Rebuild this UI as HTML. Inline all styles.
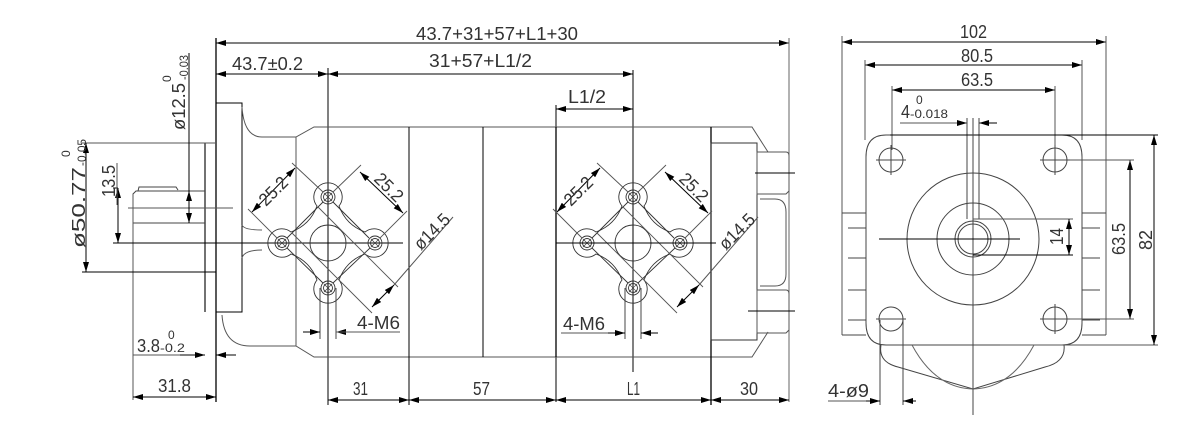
<!DOCTYPE html>
<html><head><meta charset="utf-8"><style>
html,body{margin:0;padding:0;background:#fff}
svg{display:block}
text{font-family:"Liberation Sans",sans-serif;fill:#333;font-size:18px}
.s{font-size:12px}
</style></head><body>
<svg width="1199" height="440" viewBox="0 0 1199 440" xmlns="http://www.w3.org/2000/svg">
<defs>
<marker id="a" viewBox="0 0 10 6" refX="10" refY="3" markerWidth="10" markerHeight="6" markerUnits="userSpaceOnUse" orient="auto-start-reverse"><path d="M0,0 L10,3 L0,6 z" fill="#000"/></marker>
<g id="h" fill="none" stroke="#333" stroke-width="0.9"><circle r="7"/><circle r="4.5"/><path d="M-4,-4 L4,4 M-4,4 L4,-4" stroke-width="0.6"/></g>
<g id="pp" fill="none" stroke="#333" stroke-width="0.9">
  <path d="M-11,-37 A14.2,14.2 0 1 1 11,-37 Q18,-18 37,-11 A14.2,14.2 0 1 1 37,11 Q18,18 11,37 A14.2,14.2 0 1 1 -11,37 Q-18,18 -37,11 A14.2,14.2 0 1 1 -37,-11 Q-18,-18 -11,-37 Z"/>
  <use href="#h" x="0" y="-46"/><use href="#h" x="-46" y="0"/><use href="#h" x="47" y="0"/><use href="#h" x="0" y="45"/>
  <circle cx="0" cy="0" r="18"/>
  <path d="M-5,-41 L-41,-5 M5,-41 L41,-5 M-5,40 L-41,5 M5,40 L42,5"/>
  <path d="M-5,-51 L-36,-80 M-51,-5 L-80,-34 M5,-51 L33,-78 M52,-5 L79,-32" stroke="#555"/>
  <path d="M-10,-36 L70,44 M-36,-10 L44,70" stroke="#555"/>
  <path d="M-8,45 L-8,96 M8,45 L8,96"/>
</g>
</defs>
<g stroke="#000" stroke-width="1" fill="none">
<line x1="216" y1="43" x2="789" y2="43" marker-start="url(#a)" marker-end="url(#a)"/>
<line x1="216" y1="74" x2="328" y2="74" marker-start="url(#a)" marker-end="url(#a)"/>
<line x1="328" y1="74" x2="633" y2="74" marker-start="url(#a)" marker-end="url(#a)"/>
<line x1="556" y1="109" x2="633" y2="109" marker-start="url(#a)" marker-end="url(#a)"/>
<line x1="216" y1="38" x2="216" y2="402" stroke-width="1.3"/>
<line x1="789" y1="38" x2="789" y2="402" stroke="#666"/>
<line x1="328" y1="68" x2="328" y2="405"/>
<line x1="633" y1="70" x2="633" y2="372"/>
<line x1="556" y1="105" x2="556" y2="402"/>
<rect x="216" y="103" width="26" height="209"/>
<path d="M242,107 Q244,137 262,137 L296,137 L314,127 L752,127 L768,152" stroke="#555"/>
<path d="M222,315 Q224,346 250,346 L296,346 L314,357 L752,357 L768,332" stroke="#555"/>
<line x1="296" y1="137" x2="296" y2="346" stroke="#555"/>
<path d="M242,225 Q244,230 262,230 M242,258 Q244,250 262,250" stroke="#555"/>
<line x1="409" y1="127" x2="409" y2="405"/>
<line x1="483" y1="127" x2="483" y2="357"/>
<line x1="556" y1="127" x2="556" y2="357" stroke-width="1.3"/>
<line x1="711" y1="127" x2="711" y2="405" stroke-width="1.3"/>
<rect x="711" y="143" width="46" height="197" stroke="#333"/>
<path d="M757,152 L786,152 Q789,152 789,156 L789,191 L786,194 L757,194 Z" stroke="#555"/>
<path d="M757,290 L786,290 Q789,290 789,294 L789,330 L786,333 L757,333 Z" stroke="#555"/>
<path d="M760,199 L775,199 Q786,199 786,212 L786,274 Q786,286 775,286 L760,286" stroke="#555"/>
<line x1="755" y1="173" x2="795" y2="173"/><line x1="748" y1="311" x2="795" y2="311"/>
<path d="M133,223 L133,194 L136,191 L205,191 M138,191 L139,187 L176,187 L178,190 M133,223 L205,223" stroke="#444"/>
<line x1="133" y1="194" x2="133" y2="400" stroke="#555"/>
<line x1="205" y1="143" x2="205" y2="312" stroke="#444" stroke-width="1.5"/>
<line x1="128" y1="208" x2="233" y2="208" stroke="#555"/>
<line x1="113" y1="243" x2="403" y2="243"/>
<line x1="82" y1="143" x2="216" y2="143" stroke="#555"/>
<line x1="82" y1="272" x2="216" y2="272"/>
<line x1="86" y1="143" x2="86" y2="272" marker-start="url(#a)" marker-end="url(#a)"/>
<line x1="189" y1="53" x2="189" y2="191"/>
<line x1="189" y1="191" x2="189" y2="223" marker-start="url(#a)" marker-end="url(#a)"/>
<line x1="118" y1="188" x2="118" y2="243" marker-start="url(#a)" marker-end="url(#a)"/>
<line x1="113" y1="188" x2="118" y2="188"/>
<line x1="133" y1="355" x2="200" y2="355" stroke="#555"/>
<line x1="180" y1="355" x2="205" y2="355" marker-end="url(#a)"/>
<line x1="236" y1="355" x2="216" y2="355" marker-end="url(#a)"/>
<line x1="133" y1="397" x2="216" y2="397" marker-start="url(#a)" marker-end="url(#a)"/>
<line x1="328" y1="400" x2="409" y2="400" marker-start="url(#a)" marker-end="url(#a)"/>
<line x1="409" y1="400" x2="556" y2="400" marker-start="url(#a)" marker-end="url(#a)"/>
<line x1="556" y1="400" x2="711" y2="400" marker-start="url(#a)" marker-end="url(#a)"/>
<line x1="711" y1="400" x2="789" y2="400" marker-start="url(#a)" marker-end="url(#a)"/>
<use href="#pp" x="328" y="243"/>
<use href="#pp" x="633" y="243"/>
<line x1="556" y1="243" x2="716" y2="243"/>
<line x1="252" y1="212" x2="295" y2="168" marker-start="url(#a)" marker-end="url(#a)"/>
<line x1="360" y1="172" x2="403" y2="213" marker-start="url(#a)" marker-end="url(#a)"/>
<line x1="372" y1="307" x2="394" y2="285" marker-start="url(#a)" marker-end="url(#a)"/>
<line x1="394" y1="285" x2="453" y2="217" stroke="#555"/>
<line x1="557" y1="212" x2="600" y2="168" marker-start="url(#a)" marker-end="url(#a)"/>
<line x1="665" y1="172" x2="708" y2="213" marker-start="url(#a)" marker-end="url(#a)"/>
<line x1="677" y1="307" x2="699" y2="285" marker-start="url(#a)" marker-end="url(#a)"/>
<line x1="699" y1="285" x2="758" y2="217" stroke="#555"/>
<line x1="303" y1="332" x2="320" y2="332" marker-end="url(#a)"/>
<line x1="353" y1="332" x2="336" y2="332" marker-end="url(#a)"/>
<line x1="336" y1="332" x2="400" y2="332" stroke="#555"/>
<line x1="561" y1="333" x2="625" y2="333" stroke="#555"/>
<line x1="608" y1="333" x2="625" y2="333" marker-end="url(#a)"/>
<line x1="658" y1="333" x2="641" y2="333" marker-end="url(#a)"/>

<line x1="842" y1="42" x2="1106" y2="42" marker-start="url(#a)" marker-end="url(#a)"/>
<line x1="865" y1="65" x2="1082" y2="65" marker-start="url(#a)" marker-end="url(#a)"/>
<line x1="892" y1="90" x2="1055" y2="90" marker-start="url(#a)" marker-end="url(#a)"/>
<line x1="842" y1="36" x2="842" y2="335" stroke="#555"/>
<line x1="1106" y1="36" x2="1106" y2="335" stroke="#555"/>
<line x1="865" y1="60" x2="865" y2="140" stroke="#555"/>
<line x1="1082" y1="60" x2="1082" y2="140" stroke="#555"/>
<line x1="892" y1="86" x2="892" y2="150" stroke="#555"/>
<line x1="1055" y1="86" x2="1055" y2="150" stroke="#555"/>
<line x1="900" y1="123" x2="967" y2="123" marker-end="url(#a)" stroke="#555"/>
<line x1="997" y1="123" x2="979" y2="123" marker-end="url(#a)"/>
<path d="M967,118 L967,219 M979,118 L979,219" stroke="#444"/>
<path d="M886,135 L1062,135 Q1082,135 1082,157 L1082,323 Q1082,345 1062,345 L886,345 Q866,345 866,323 L866,157 Q866,135 886,135 Z" stroke="#444"/>
<line x1="890" y1="135" x2="1158" y2="135"/>
<line x1="1000" y1="345" x2="1158" y2="345" stroke="#555"/>
<line x1="1154" y1="135" x2="1154" y2="345" marker-start="url(#a)" marker-end="url(#a)"/>
<line x1="1130" y1="160" x2="1130" y2="319" marker-start="url(#a)" marker-end="url(#a)"/>
<line x1="1070" y1="160" x2="1134" y2="160" stroke="#555"/>
<line x1="1070" y1="319" x2="1134" y2="319" stroke="#555"/>
<g stroke="#444">
<circle cx="891" cy="160" r="12"/><circle cx="1055" cy="160" r="12"/>
<circle cx="891" cy="319" r="12"/><circle cx="1055" cy="319" r="12"/>
<path d="M876,160 L906,160 M891,145 L891,175 M1040,160 L1070,160 M1055,145 L1055,175 M876,319 L906,319 M1040,319 L1070,319 M1055,304 L1055,334"/>
<circle cx="973" cy="239" r="66"/><circle cx="973" cy="239" r="36"/>
<circle cx="973" cy="239" r="18"/><circle cx="973" cy="239" r="15"/>
<path d="M842,213 L866,213 M842,335 L866,335 M1082,213 L1106,213 M1082,335 L1106,335"/>
<path d="M848,228 L866,228 M848,258 L866,258 M848,290 L866,290 M848,320 L866,320 M1082,228 L1100,228 M1082,258 L1100,258 M1082,290 L1100,290 M1082,320 L1100,320"/>
<path d="M881,345 Q878,362 898,367 L973,389 L1045,367 Q1066,362 1064,345"/>
<path d="M912,345 Q935,388 973,389 Q1011,388 1034,345" stroke="#666"/>
</g>
<line x1="973" y1="118" x2="973" y2="415" stroke="#444"/>
<line x1="879" y1="239" x2="1020" y2="239"/>
<line x1="973" y1="219" x2="1073" y2="219" stroke="#555"/>
<line x1="973" y1="255" x2="1073" y2="255"/>
<line x1="1069" y1="219" x2="1069" y2="255" marker-start="url(#a)" marker-end="url(#a)"/>
<path d="M880,320 L880,405 M903,320 L903,405" stroke="#444"/>
<line x1="828" y1="401" x2="880" y2="401" stroke="#555"/>
<line x1="866" y1="401" x2="880" y2="401" marker-end="url(#a)"/>
<line x1="916" y1="401" x2="903" y2="401" marker-end="url(#a)"/>
</g>
<g>
<text x="416" y="40" textLength="162" lengthAdjust="spacingAndGlyphs">43.7+31+57+L1+30</text>
<text x="429" y="67" textLength="103" lengthAdjust="spacingAndGlyphs">31+57+L1/2</text>
<text x="232" y="70" textLength="71" lengthAdjust="spacingAndGlyphs">43.7±0.2</text>
<text x="568" y="103" textLength="38" lengthAdjust="spacingAndGlyphs">L1/2</text>
<text x="353" y="395" textLength="15" lengthAdjust="spacingAndGlyphs">31</text>
<text x="473" y="395" textLength="17" lengthAdjust="spacingAndGlyphs">57</text>
<text x="627" y="395" textLength="13" lengthAdjust="spacingAndGlyphs">L1</text>
<text x="740" y="395" textLength="18" lengthAdjust="spacingAndGlyphs">30</text>
<text x="158" y="392" textLength="33" lengthAdjust="spacingAndGlyphs">31.8</text>
<text x="137" y="352" textLength="23" lengthAdjust="spacingAndGlyphs">3.8</text>
<text class="s" x="160" y="352" textLength="25" lengthAdjust="spacingAndGlyphs">-0.2</text>
<text class="s" x="168" y="339">0</text>
<text x="357" y="329" textLength="43" lengthAdjust="spacingAndGlyphs">4-M6</text>
<text x="563" y="330" textLength="42" lengthAdjust="spacingAndGlyphs">4-M6</text>
<text transform="translate(185,130) rotate(-90)" textLength="47" lengthAdjust="spacingAndGlyphs">ø12.5</text>
<text class="s" transform="translate(171,82) rotate(-90)">0</text>
<text class="s" transform="translate(188,80) rotate(-90)" textLength="25" lengthAdjust="spacingAndGlyphs">-0.03</text>
<text transform="translate(85,248) rotate(-90)" textLength="81" lengthAdjust="spacingAndGlyphs">ø50.77</text>
<text class="s" transform="translate(86,166) rotate(-90)" textLength="27" lengthAdjust="spacingAndGlyphs">-0.05</text>
<text class="s" transform="translate(70,157) rotate(-90)">0</text>
<text transform="translate(115,197) rotate(-90)" textLength="32" lengthAdjust="spacingAndGlyphs">13.5</text>
<line x1="117" y1="163" x2="117" y2="205" stroke="#555"/>
<text transform="translate(266,207) rotate(-45)" textLength="33" lengthAdjust="spacingAndGlyphs">25.2</text>
<text transform="translate(373,180) rotate(45)" textLength="33" lengthAdjust="spacingAndGlyphs">25.2</text>
<text transform="translate(421,251) rotate(-45)" textLength="43" lengthAdjust="spacingAndGlyphs">ø14.5</text>
<text transform="translate(571,207) rotate(-45)" textLength="33" lengthAdjust="spacingAndGlyphs">25.2</text>
<text transform="translate(678,180) rotate(45)" textLength="33" lengthAdjust="spacingAndGlyphs">25.2</text>
<text transform="translate(726,251) rotate(-45)" textLength="43" lengthAdjust="spacingAndGlyphs">ø14.5</text>
<text x="960" y="38" textLength="27" lengthAdjust="spacingAndGlyphs">102</text>
<text x="961" y="62" textLength="32" lengthAdjust="spacingAndGlyphs">80.5</text>
<text x="961" y="86" textLength="32" lengthAdjust="spacingAndGlyphs">63.5</text>
<text x="901" y="118" textLength="9" lengthAdjust="spacingAndGlyphs">4</text>
<text class="s" x="910" y="118" textLength="38" lengthAdjust="spacingAndGlyphs">-0.018</text>
<text class="s" x="916" y="104">0</text>
<text transform="translate(1063,245) rotate(-90)" textLength="17" lengthAdjust="spacingAndGlyphs">14</text>
<text transform="translate(1125,255) rotate(-90)" textLength="32" lengthAdjust="spacingAndGlyphs">63.5</text>
<text transform="translate(1152,250) rotate(-90)" textLength="20" lengthAdjust="spacingAndGlyphs">82</text>
<text x="828" y="397" textLength="41" lengthAdjust="spacingAndGlyphs">4-ø9</text>
</g>
</svg>
</body></html>
